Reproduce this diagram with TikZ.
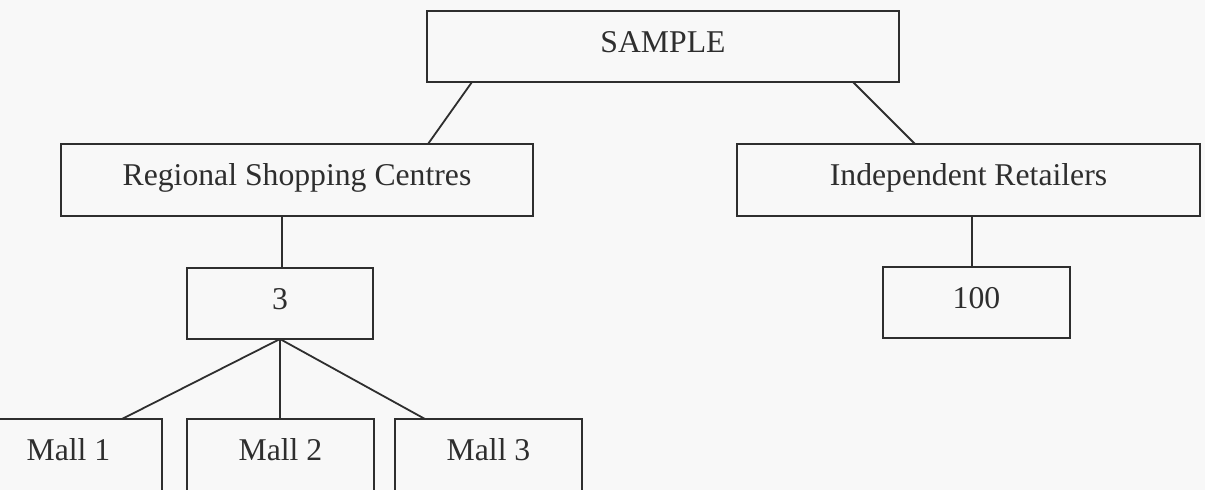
\documentclass[tikz,border=0pt]{standalone}
\usepackage{fontspec}
\setmainfont{Liberation Serif}
\usetikzlibrary{calc}
\definecolor{ink}{HTML}{2E2E2E}
\definecolor{paper}{HTML}{F8F8F8}
\tikzset{
  box/.style={draw=ink, line width=1.8pt, text=ink, inner sep=0pt, outer sep=0pt,
    text height=21pt, text depth=10pt, font=\fontsize{31.7}{38}\selectfont},
  link/.style={draw=ink, line width=1.8pt},
}
\begin{document}
\begin{tikzpicture}[x=1pt, y=-1pt]
  \useasboundingbox (0,0) rectangle (1205,490);
  \fill[paper] (0,0) rectangle (1205,490);
  \clip (0,0) rectangle (1205,490);

  % top level
  \node[box, minimum width=472pt, minimum height=71pt] (sample) at (663,46.5) {SAMPLE};

  % second level
  \node[box, minimum width=472pt, minimum height=72pt] (regional) at (297,180) {Regional Shopping Centres};
  \node[box, minimum width=463pt, minimum height=72pt] (indep) at (968.5,180) {Independent Retailers};

  % counts
  \node[box, minimum width=186pt, minimum height=71pt] (three) at (280,303.5) {3};
  \node[box, minimum width=187pt, minimum height=71pt] (hundred) at (976.5,302.5) {100};

  % malls
  \node[box, minimum width=187pt, minimum height=72pt] (mall1) at (68.5,455) {Mall 1};
  \node[box, minimum width=187pt, minimum height=72pt] (mall2) at (280.5,455) {Mall 2};
  \node[box, minimum width=187pt, minimum height=72pt] (mall3) at (488.5,455) {Mall 3};

  % connectors
  \draw[link] ([xshift=45pt]sample.south west) -- ([xshift=-105pt]regional.north east);
  \draw[link] ([xshift=-46pt]sample.south east) -- ([xshift=178pt]indep.north west);
  \draw[link] ([xshift=2pt]three.north |- regional.south) -- ([xshift=2pt]three.north);
  \draw[link] ([xshift=-4.5pt]hundred.north |- indep.south) -- ([xshift=-4.5pt]hundred.north);
  \draw[link] (three.south) -- ([xshift=53.5pt]mall1.north);
  \draw[link] (three.south) -- (three.south |- mall2.north);
  \draw[link] (three.south) -- ([xshift=-63.5pt]mall3.north);
\end{tikzpicture}
\end{document}
